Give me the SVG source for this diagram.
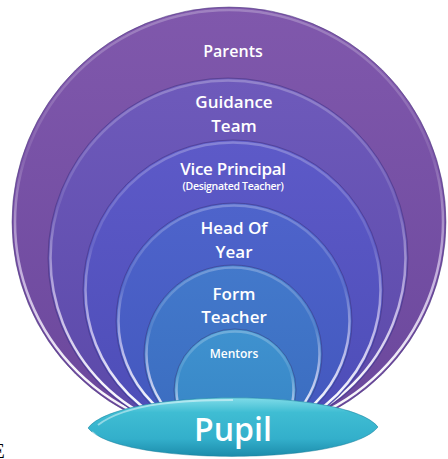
<svg xmlns="http://www.w3.org/2000/svg" width="448" height="459" viewBox="0 0 448 459">
<defs>
<linearGradient id="rim" x1="0" y1="0" x2="0" y2="1">
<stop offset="0" stop-color="#ffffff" stop-opacity="0.25"/>
<stop offset="0.35" stop-color="#ffffff" stop-opacity="0.1"/>
<stop offset="0.6" stop-color="#f2e8ff" stop-opacity="0.6"/>
<stop offset="0.85" stop-color="#ffffff" stop-opacity="0.95"/>
<stop offset="1" stop-color="#ffffff" stop-opacity="0.95"/>
</linearGradient>
<linearGradient id="g1" x1="0" y1="0" x2="0" y2="1"><stop offset="0" stop-color="#8058ac"/><stop offset="1" stop-color="#6a479c"/></linearGradient>
<linearGradient id="g2" x1="0" y1="0" x2="0" y2="1"><stop offset="0" stop-color="#6e5abb"/><stop offset="1" stop-color="#5a48a8"/></linearGradient>
<linearGradient id="g3" x1="0" y1="0" x2="0" y2="1"><stop offset="0" stop-color="#5d5ac8"/><stop offset="1" stop-color="#4c4cb6"/></linearGradient>
<linearGradient id="g4" x1="0" y1="0" x2="0" y2="1"><stop offset="0" stop-color="#4e64cb"/><stop offset="1" stop-color="#4257bd"/></linearGradient>
<linearGradient id="g5" x1="0" y1="0" x2="0" y2="1"><stop offset="0" stop-color="#4379cb"/><stop offset="1" stop-color="#3a6bbf"/></linearGradient>
<linearGradient id="g6" x1="0" y1="0" x2="0" y2="1"><stop offset="0" stop-color="#3f92cf"/><stop offset="1" stop-color="#3682c4"/></linearGradient>
<linearGradient id="gp" x1="0" y1="0" x2="0" y2="1">
<stop offset="0" stop-color="#7fdbe8"/>
<stop offset="0.25" stop-color="#3fbdd3"/>
<stop offset="0.7" stop-color="#33afcb"/>
<stop offset="1" stop-color="#1c8cab"/>
</linearGradient>
<style>
.layer{stroke:#3b2a6e;stroke-opacity:0.45;stroke-width:1}
.rim{fill:none;stroke:url(#rim);stroke-width:2.5}
.t{fill:#ffffff;font-family:"Open Sans","Liberation Sans",sans-serif;font-weight:600;text-anchor:middle}
</style>
</defs>
<rect width="448" height="459" fill="#ffffff"/>
<g id="parents">
<ellipse class="layer" cx="229" cy="222" rx="217" ry="215" fill="url(#g1)"/>
<ellipse class="rim" cx="229" cy="222" rx="214" ry="212"/>
<text class="t" x="233" y="57" font-size="16">Parents</text>
</g>
<g id="guidance-team">
<circle class="layer" cx="228" cy="258" r="180" fill="url(#g2)"/>
<circle class="rim" cx="228" cy="258" r="177.5"/>
<text class="t" x="234" y="108" font-size="17">Guidance</text>
<text class="t" x="234" y="132" font-size="17">Team</text>
</g>
<g id="vice-principal">
<circle class="layer" cx="233" cy="290" r="150" fill="url(#g3)"/>
<circle class="rim" cx="233" cy="290" r="147.5"/>
<text class="t" x="233" y="175" font-size="17" letter-spacing="-0.3">Vice Principal</text>
<text class="t" x="233" y="190" font-size="10.5" letter-spacing="-0.3">(Designated Teacher)</text>
</g>
<g id="head-of-year">
<circle class="layer" cx="234" cy="321" r="118" fill="url(#g4)"/>
<circle class="rim" cx="234" cy="321" r="115.5"/>
<text class="t" x="234" y="234" font-size="17">Head Of</text>
<text class="t" x="234" y="258" font-size="17">Year</text>
</g>
<g id="form-teacher">
<circle class="layer" cx="233" cy="354" r="89" fill="url(#g5)"/>
<circle class="rim" cx="233" cy="354" r="86.5"/>
<text class="t" x="234" y="300" font-size="17">Form</text>
<text class="t" x="234" y="323" font-size="17">Teacher</text>
</g>
<g id="mentors">
<circle class="layer" cx="235" cy="390" r="61" fill="url(#g6)"/>
<circle class="rim" cx="235" cy="390" r="58.5"/>
<text class="t" x="234" y="358" font-size="12">Mentors</text>
</g>
<g id="pupil">
<path d="M88 428 C118 388 348 388 378 427 C348 466 118 466 88 428 Z" fill="url(#gp)" stroke="#1b7f9c" stroke-opacity="0.5" stroke-width="1"/>
<path d="M98 425 C128 402 190 400 233 400" fill="none" stroke="#ffffff" stroke-opacity="0.45" stroke-width="2"/>
<path d="M92 432 C100 440 110 445 118 447" fill="none" stroke="#ffffff" stroke-opacity="0.5" stroke-width="2"/>
<text class="t" x="233" y="441" font-size="32" font-weight="700">Pupil</text>
</g>
<g id="connectors"></g>
<text x="-8" y="458" font-family="Liberation Serif, serif" font-size="21" fill="#000000">E</text>
</svg>
